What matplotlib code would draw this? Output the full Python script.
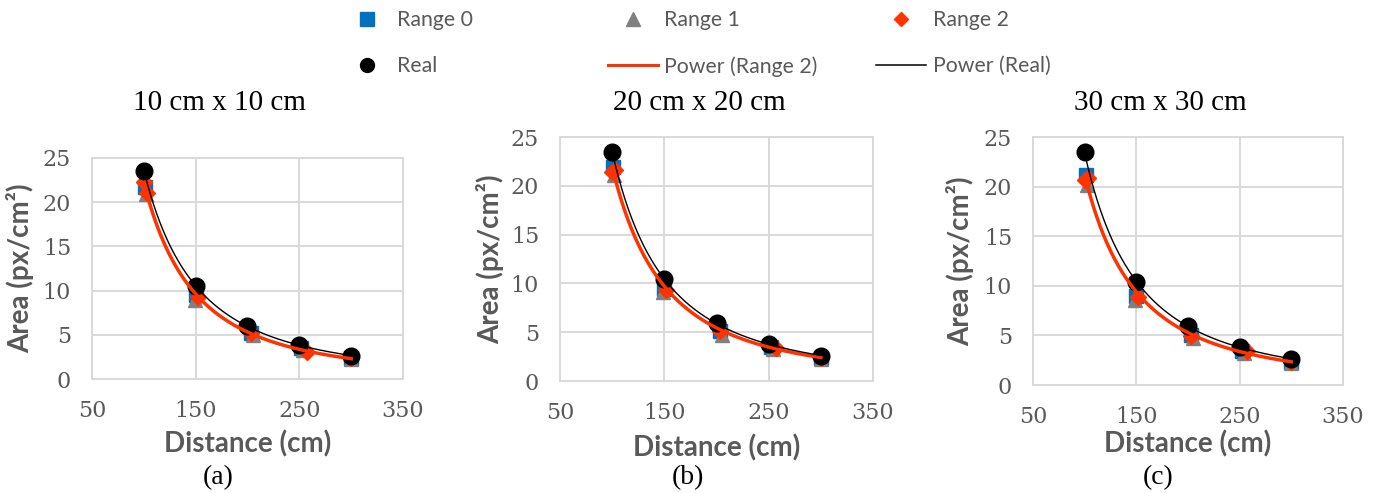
import numpy as np
import matplotlib
matplotlib.use("Agg")
import matplotlib.pyplot as plt
from matplotlib.lines import Line2D

# ---------------- data ----------------
panel_titles = ["10 cm x 10 cm", "20 cm x 20 cm", "30 cm x 30 cm"]
panel_tags = ["(a)", "(b)", "(c)"]

real_x = [100, 150, 200, 250, 300]
real_a = [23.5, 10.5, 6.0, 3.9, 2.6]
real_b = [23.5, 10.4, 5.9, 3.8, 2.6]
real_c = [23.45, 10.4, 5.9, 3.8, 2.65]

r0_x = [101, 150, 203, 252, 300]
r0_a = [21.7, 9.5, 5.2, 3.5, 2.4]
r0_b = [21.9, 9.4, 5.1, 3.5, 2.4]
r0_c = [21.2, 9.0, 5.0, 3.4, 2.3]

r1_x = [102, 149, 205, 254, 300]
r1_a = [20.9, 8.9, 5.0, 3.3, 2.3]
r1_b = [21.1, 9.1, 4.7, 3.3, 2.3]
r1_c = [20.2, 8.6, 4.7, 3.2, 2.2]

r2_x = [100, 103, 152, 203, 257, 300]
r2_a = [22.3, 21.0, 9.3, 5.2, 3.0, 2.4]
r2_b = [21.4, 21.6, 9.3, 5.1, 3.4, 2.4]
r2_c = [20.7, 20.9, 8.9, 4.9, 3.4, 2.3]

reals = [real_a, real_b, real_c]
r0s = [r0_a, r0_b, r0_c]
r1s = [r1_a, r1_b, r1_c]
r2s = [r2_a, r2_b, r2_c]

x_ticks = [50, 150, 250, 350]
y_ticks = [0, 5, 10, 15, 20, 25]

# ---------------- style ----------------
BLUE = "#0070C0"
GRAY = "#808080"
RED = "#FF3300"
TXT = "#595959"
GRID = "#D9D9D9"

W, H = 1381, 493
fig = plt.figure(figsize=(W / 100, H / 100), dpi=100)

# axes boxes in pixels: left, top, right, bottom
boxes = [(92, 158, 403, 379), (560, 137, 873, 381), (1033, 137, 1343, 385)]
ylab_right = [34, 504, 974]
xlab_top = [430, 434, 430]
title_cx = [219, 699, 1160]
tag_cx = [218, 688, 1158]


def power_fit(x, y):
    b, ln_a = np.polyfit(np.log(x), np.log(y), 1)
    return np.exp(ln_a), b


for i, (l, t, r, b) in enumerate(boxes):
    ax = fig.add_axes([l / W, 1 - b / H, (r - l) / W, (b - t) / H])
    ax.set_xlim(50, 350)
    ax.set_ylim(0, 25)
    ax.set_xticks(x_ticks)
    ax.set_yticks(y_ticks)
    ax.grid(True, color=GRID, lw=1.4, zorder=0)
    ax.set_axisbelow(True)
    for s in ax.spines.values():
        s.set_color(GRID)
        s.set_linewidth(1.4)
    ax.tick_params(axis="y", length=0, pad=15, labelcolor=TXT)
    ax.tick_params(axis="x", length=0, pad=15, labelcolor=TXT)
    for lab in ax.get_xticklabels() + ax.get_yticklabels():
        lab.set_fontfamily("DejaVu Serif")
        lab.set_fontsize(16)

    ax.plot(r0_x, r0s[i], "s", color=BLUE, ms=10, ls="none", zorder=3)
    ax.plot(r1_x, r1s[i], "^", color=GRAY, ms=10, ls="none", zorder=3)
    ax.plot(r2_x, r2s[i], "D", color=RED, ms=8.5, ls="none", zorder=3)
    ax.plot(real_x, reals[i], "o", color="black", ms=12, ls="none", zorder=3)

    xs = np.linspace(100, 300, 200)
    a2, b2 = power_fit(r2_x, r2s[i])
    ar, br = power_fit(real_x, reals[i])
    ax.plot(xs, a2 * xs ** b2, color=RED, lw=2.5, zorder=4)
    ax.plot(xs, ar * xs ** br, color="black", lw=1.0, zorder=5)

    ax.set_xlabel("Distance (cm)", fontfamily="Lato", fontweight="bold",
                  fontsize=20, color=TXT)
    ax.set_ylabel("Area (px/cm²)", fontfamily="Lato", fontweight="bold",
                  fontsize=20, color=TXT)
    ax.yaxis.set_label_coords((ylab_right[i] - l) / (r - l), 0.5)
    ax.xaxis.set_label_coords(0.5, (b - xlab_top[i]) / (b - t))

    fig.text(title_cx[i] / W, 1 - 103 / H, panel_titles[i], ha="center",
             va="center", fontfamily="Liberation Serif", fontsize=21,
             color="black")
    fig.text(tag_cx[i] / W, 1 - 478 / H, panel_tags[i], ha="center",
             va="center", fontfamily="Liberation Serif", fontsize=20,
             color="black")

# ---------------- legend (three columns) ----------------
h_r0 = Line2D([], [], marker="s", color=BLUE, ls="none", ms=9.5)
h_real = Line2D([], [], marker="o", color="black", ls="none", ms=10)
h_r1 = Line2D([], [], marker="^", color=GRAY, ls="none", ms=9.5)
h_p2 = Line2D([], [], color=RED, lw=2.2)
h_r2 = Line2D([], [], marker="D", color=RED, ls="none", ms=7.5)
h_pr = Line2D([], [], color="black", lw=1.1)

legcols = [
    ([h_r0, h_real], ["Range 0", "Real"], 352, 1.4, 0.7),
    ([h_r1, h_p2], ["Range 1", "Power (Range 2)"], 608, 2.35, 0.28),
    ([h_r2, h_pr], ["Range 2", "Power (Real)"], 876, 2.35, 0.33),
]
for hs, labs, x0, hl, hp in legcols:
    leg = fig.legend(hs, labs, loc="upper left",
                     bbox_to_anchor=(x0 / W, 1 - 10 / H),
                     frameon=False, borderpad=0, borderaxespad=0,
                     handlelength=hl, handletextpad=hp, labelspacing=1.23,
                     prop={"family": "Lato", "size": 15.3})
    for tx in leg.get_texts():
        tx.set_color(TXT)

fig.savefig("out.png", dpi=100)
